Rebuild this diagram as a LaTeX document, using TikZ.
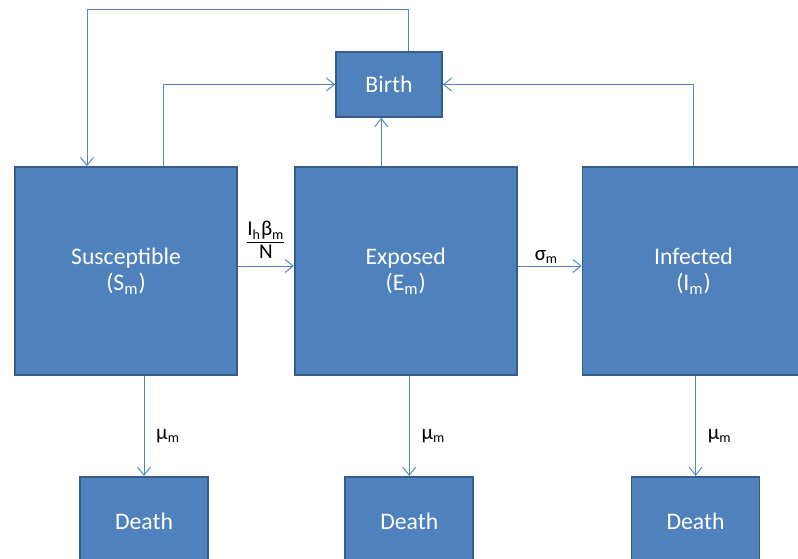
\documentclass[tikz,border=0pt]{standalone}
\usepackage{fontspec}
\setmainfont{Carlito}
\usetikzlibrary{positioning,arrows.meta}
\definecolor{boxblue}{HTML}{4F81BD}
\definecolor{boxedge}{HTML}{385D8A}
\definecolor{linkblue}{HTML}{5585C2}

\begin{document}
\begin{tikzpicture}[
        box/.style={rectangle, draw=boxedge, line width=1pt, fill=boxblue, text=white, align=center, font=\fontsize{13.5}{15}\selectfont}, % Compartment style
        big/.style={box, minimum width=4.44cm, minimum height=4.16cm},
        small/.style={box, minimum width=2.56cm, minimum height=1.8cm},
        link/.style={draw=linkblue, line width=0.55pt, -{Straight Barb[length=1.6mm,width=2.6mm]}}, % Arrow style
        rate/.style={font=\fontsize{12}{13}\selectfont, inner sep=1pt}
    ]
        \useasboundingbox (0,0) rectangle (15.96,-11.16);
        \clip (0,0) rectangle (15.96,-11.16);

        % Top row
        \node (birth) [box, minimum width=2.12cm, minimum height=1.3cm] at (7.78,-1.69) {Birth};

        % Middle row (left to right)
        \node (sus) [big] at (2.52,-5.42) {Susceptible\\(S\textsubscript{m})};
        \node (exp) [big, right=1.12cm of sus] {Exposed\\(E\textsubscript{m})};
        \node (inf) [big, right=1.28cm of exp] {Infected\\(I\textsubscript{m})};

        % Bottom row
        \node (death1) [small, below=2cm of sus, xshift=0.36cm] {Death};
        \node (death2) [small, below=2cm of exp, xshift=0.07cm] {Death};
        \node (death3) [small, below=2cm of inf, xshift=0.04cm] {Death};

        % Births back into the susceptible class
        \draw [link] ([xshift=0.38cm]birth.north) -- ++(0,0.84) -| ([xshift=-0.78cm]sus.north);
        \draw [link] ([xshift=0.74cm]sus.north) |- (birth.west);
        \draw [link] ([xshift=-0.49cm]exp.north) -- ([xshift=-0.49cm]exp.north |- birth.south);
        \draw [link] (inf.north) |- (birth.east);

        % Progression
        \draw [link] ([yshift=0.1cm]sus.east) -- ([yshift=0.1cm]exp.west)
            node [rate, midway, above, yshift=0.1cm, align=center] {\underline{I\textsubscript{h}β\textsubscript{m}}\\N};
        \draw [link] ([yshift=0.1cm]exp.east) -- ([yshift=0.1cm]inf.west)
            node [rate, pos=0.45, above] {σ\textsubscript{m}};

        % Deaths
        \draw [link] (sus.south -| death1.north) -- (death1.north) node [rate, pos=0.6, right=0.2cm] {μ\textsubscript{m}};
        \draw [link] (exp.south -| death2.north) -- (death2.north) node [rate, pos=0.6, right=0.2cm] {μ\textsubscript{m}};
        \draw [link] (inf.south -| death3.north) -- (death3.north) node [rate, pos=0.6, right=0.2cm] {μ\textsubscript{m}};

    \end{tikzpicture}
\end{document}
